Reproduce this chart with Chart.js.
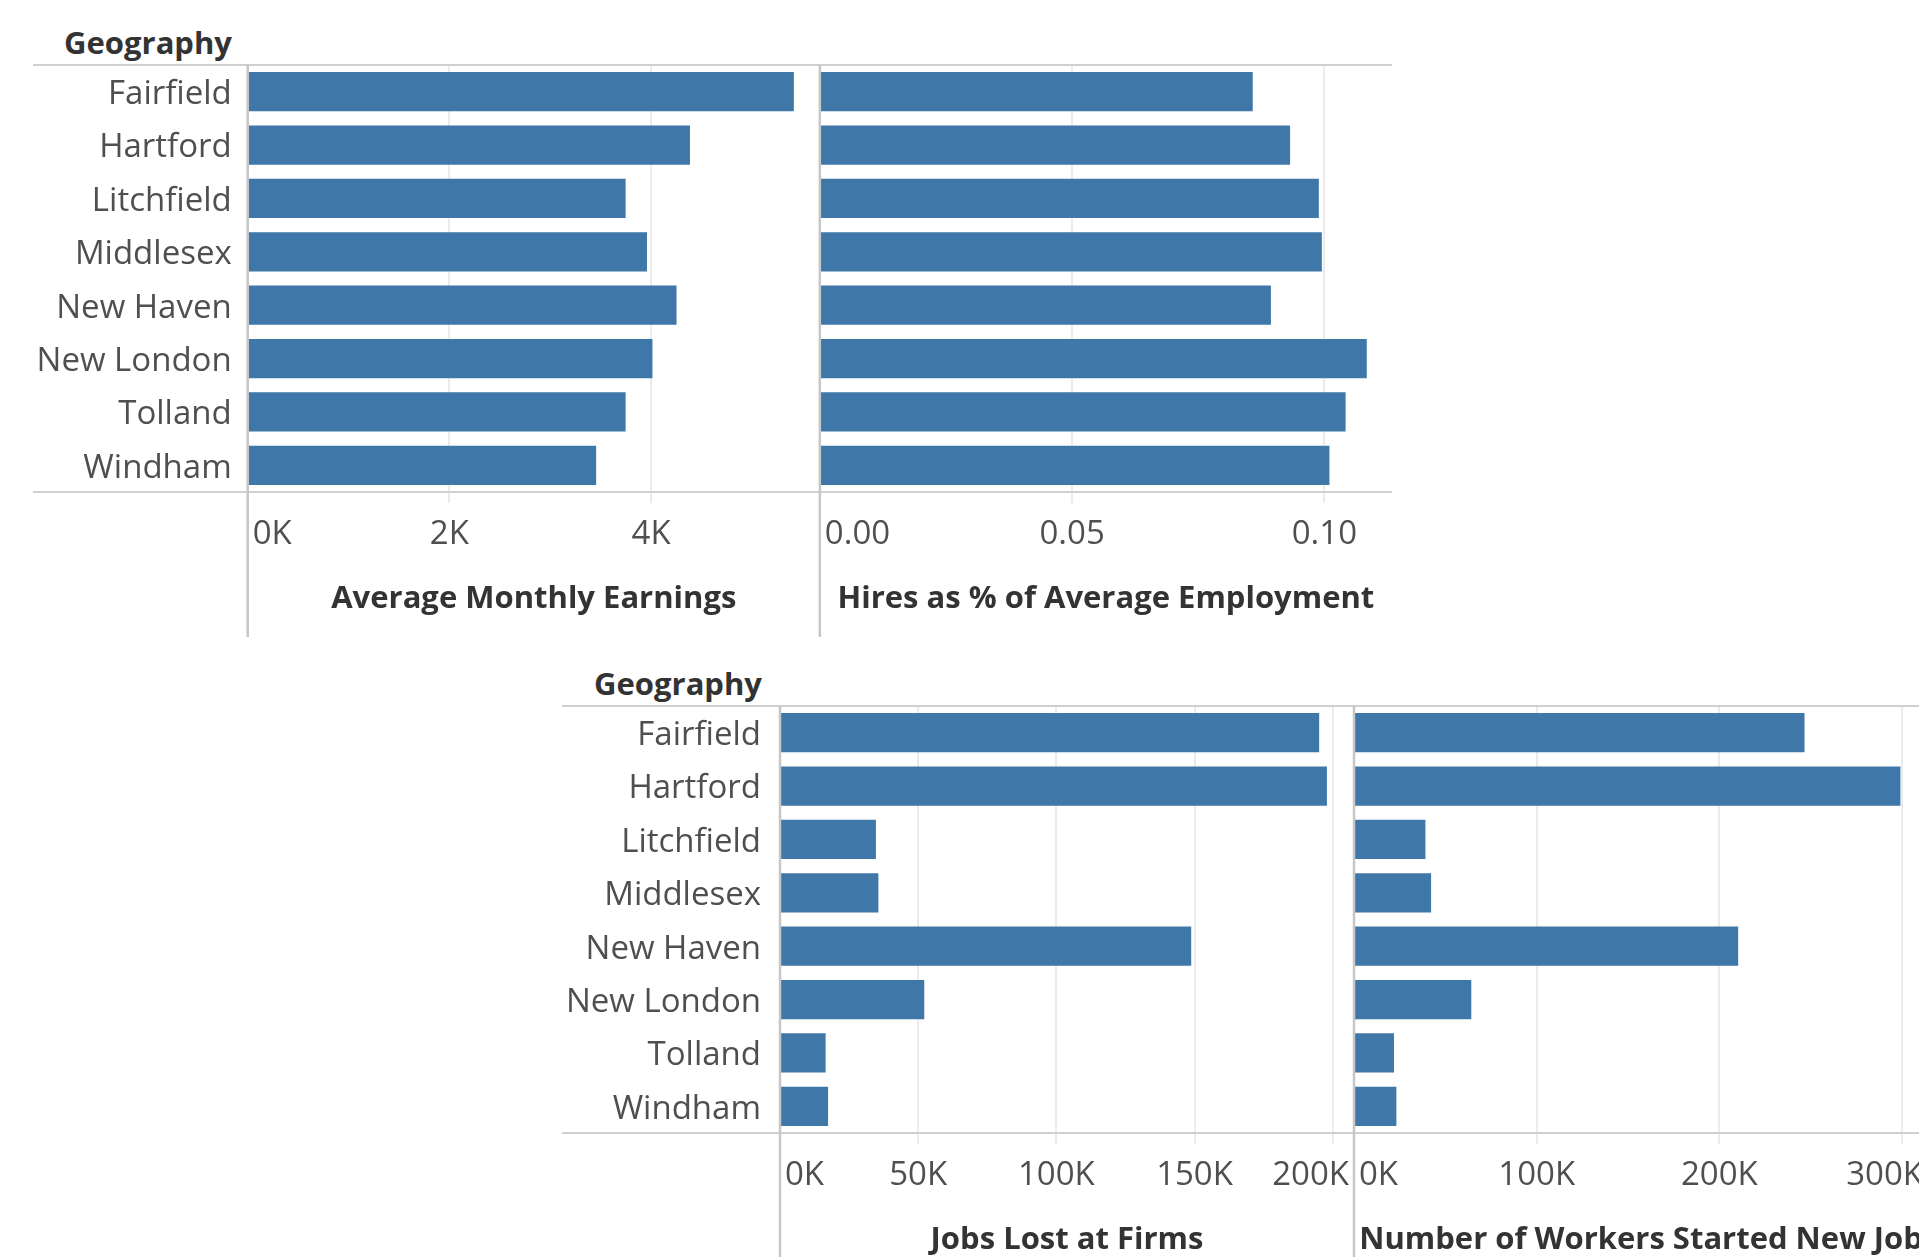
<!DOCTYPE html>
<html>
<head>
<meta charset="utf-8">
<title>Connecticut counties</title>
<script src="https://cdn.jsdelivr.net/npm/chart.js@4.4.1/dist/chart.umd.min.js"></script>
<style>
    html, body { margin: 0; padding: 0; background: #fff; overflow: hidden; width: 1919px; height: 1257px; }
    canvas { position: absolute; }
    #top-chart { left: 0; top: 0; }
    #bottom-chart { left: 540px; top: 641px; }
    .geo { position: absolute; width: 200px; text-align: right; font: bold 31px 'Open Sans', sans-serif; line-height: 31px; color: #333; }
</style>
</head>
<body>
<div class="geo" style="left:32px; top:27px;">Geography</div>
<div class="geo" style="left:562px; top:668px;">Geography</div>
<!-- widths include 12px that Chart.js keeps free for the tick padding on the right -->
<canvas id="top-chart" width="1404" height="650"></canvas>
<canvas id="bottom-chart" width="1400" height="650"></canvas>
<script>
// data
const counties = ['Fairfield', 'Hartford', 'Litchfield', 'Middlesex', 'New Haven', 'New London', 'Tolland', 'Windham'];

const avgMonthlyEarnings = [5415, 4385, 3747, 3959, 4252, 4013, 3747, 3455];
const hiresPctEmployment = [0.0858, 0.0932, 0.0989, 0.0995, 0.0894, 0.1084, 0.1042, 0.1010];
const jobsLost = [195100, 197900, 34700, 35600, 148800, 52200, 16500, 17400];
const workersStartedNewJob = [246600, 299100, 39100, 42200, 210300, 64200, 21900, 23200];

// tick values and axis ends
const earningsTicks = [0, 2000, 4000];
const hiresTicks = [0, 0.05, 0.10];
const jobsLostTicks = [0, 50000, 100000, 150000, 200000];
const startedTicks = [0, 100000, 200000, 300000];

const earningsMax = 5673;
const hiresMax = 0.1134;
const jobsLostMax = 207700;
const startedMax = 314200;  // this pane runs past the right edge of the dashboard

const BAR_BLUE = '#3e77a8';
const GRID = '#ebebeb';
const LABEL_GREY = '#4f4f4f';
const TITLE_DARK = '#333333';
const EDGE_INSET = 5;

Chart.defaults.font.family = "'Open Sans', sans-serif";
Chart.defaults.font.size = 33;
Chart.defaults.color = LABEL_GREY;

function kLabel(v) {
    return (v / 1000) + 'K';
}

function decLabel(v) {
    return v.toFixed(2);
}

// pane borders, drawn like Tableau's row/column dividers
const frameLines = {
    id: 'frameLines',
    afterDatasetsDraw(chart, args, opts) {
        let ctx = chart.ctx, area = chart.chartArea;
        ctx.save();
        ctx.strokeStyle = '#cfcfcf';
        ctx.lineWidth = 2;
        [area.top, area.bottom].forEach(function (y) {
            ctx.beginPath();
            ctx.moveTo(opts.lineStart, y);
            ctx.lineTo(area.right, y);
            ctx.stroke();
        });
        ctx.strokeStyle = '#c6c6c6';
        ctx.lineWidth = 2.5;
        opts.axes.forEach(function (id) {
            let x = chart.scales[id].getPixelForValue(0);
            ctx.beginPath();
            ctx.moveTo(x, area.top);
            ctx.lineTo(x, opts.lineEnd);
            ctx.stroke();
        });
        ctx.restore();
    }
};

// Tableau slides tick labels that would cross a pane edge back inside the pane
const fitEdgeLabels = {
    id: 'fitEdgeLabels',
    beforeDraw(chart) {
        let ctx = chart.ctx;
        Object.values(chart.scales).forEach(function (scale) {
            if (!scale.isHorizontal() || typeof scale.getLabelItems !== 'function')
                return;
            let items = scale.getLabelItems(chart.chartArea) || [];
            items.forEach(function (item) {
                let o = item.options;
                if (!o || !o.translation || !item.label || !item.font)
                    return;
                ctx.save();
                ctx.font = item.font.string;
                let w = ctx.measureText(item.label).width;
                ctx.restore();
                let x = o.translation[0];
                let left = o.textAlign === 'left' ? x : (o.textAlign === 'right' ? x - w : x - w / 2);
                left = Math.max(left, scale.left + EDGE_INSET);
                left = Math.min(left, scale.right - EDGE_INSET - w);
                o.translation[0] = left;
                o.textAlign = 'left';
            });
        });
    }
};

function valueAxis(cfg) {
    return {
        type: 'linear',
        position: 'bottom',
        stack: 'row',
        stackWeight: 1,
        bounds: 'data',
        min: 0,
        max: cfg.max,
        afterBuildTicks: function (scale) {
            scale.ticks = cfg.ticks.map(function (v) {
                return {value: v};
            });
            scale.ticks.push({value: cfg.max});  // unlabelled tick at the pane end
        },
        afterFit: function (scale) {
            scale.height = 158;
        },
        grid: {
            color: function (ctx) {
                let v = ctx.tick ? ctx.tick.value : 0;
                return (v > 0 && v < cfg.max) ? GRID : 'rgba(0,0,0,0)';
            },
            lineWidth: 2,
            tickLength: 11,
            drawTicks: true
        },
        border: {display: false},
        ticks: {
            autoSkip: false,
            maxRotation: 0,
            align: 'inner',
            padding: 12,
            color: LABEL_GREY,
            callback: function (v) {
                return v < cfg.max ? cfg.fmt(v) : '';
            }
        },
        title: {
            display: true,
            text: cfg.title,
            color: TITLE_DARK,
            font: {weight: 'bold', size: 31},
            padding: {top: 0, bottom: 32}
        }
    };
}

function makeRow(canvasId, left, right, labelWidth, labelPad, lineStart, lineEnd) {
    return new Chart(document.getElementById(canvasId), {
        type: 'bar',
        data: {
            labels: counties,
            datasets: [
                {data: left.data, xAxisID: 'xa', yAxisID: 'y', grouped: false,
                 backgroundColor: BAR_BLUE, barPercentage: 0.736, categoryPercentage: 1},
                {data: right.data, xAxisID: 'xb', yAxisID: 'y', grouped: false,
                 backgroundColor: BAR_BLUE, barPercentage: 0.736, categoryPercentage: 1}
            ]
        },
        options: {
            indexAxis: 'y',
            responsive: false,
            animation: false,
            devicePixelRatio: 1,
            layout: {padding: {top: 65, left: 0, right: 0, bottom: 0}},
            plugins: {
                legend: {display: false},
                tooltip: {enabled: false},
                frameLines: {lineStart: lineStart, lineEnd: lineEnd, axes: ['xa', 'xb']}
            },
            scales: {
                y: {
                    type: 'category',
                    position: 'left',
                    afterFit: function (scale) {
                        scale.width = labelWidth;
                    },
                    grid: {display: false, drawTicks: false},
                    border: {display: false},
                    ticks: {padding: labelPad, labelOffset: 3, color: LABEL_GREY, autoSkip: false}
                },
                xa: valueAxis(left),
                xb: valueAxis(right)
            }
        },
        plugins: [frameLines, fitEdgeLabels]
    });
}

makeRow('top-chart',
    {data: avgMonthlyEarnings, title: 'Average Monthly Earnings', ticks: earningsTicks, max: earningsMax, fmt: kLabel},
    {data: hiresPctEmployment, title: 'Hires as % of Average Employment', ticks: hiresTicks, max: hiresMax, fmt: decLabel},
    247.7, 16, 33, 637);

makeRow('bottom-chart',
    {data: jobsLost, title: 'Jobs Lost at Firms', ticks: jobsLostTicks, max: jobsLostMax, fmt: kLabel},
    {data: workersStartedNewJob, title: 'Number of Workers Started New Job', ticks: startedTicks, max: startedMax, fmt: kLabel},
    240, 19, 22, 650);
</script>
</body>
</html>
